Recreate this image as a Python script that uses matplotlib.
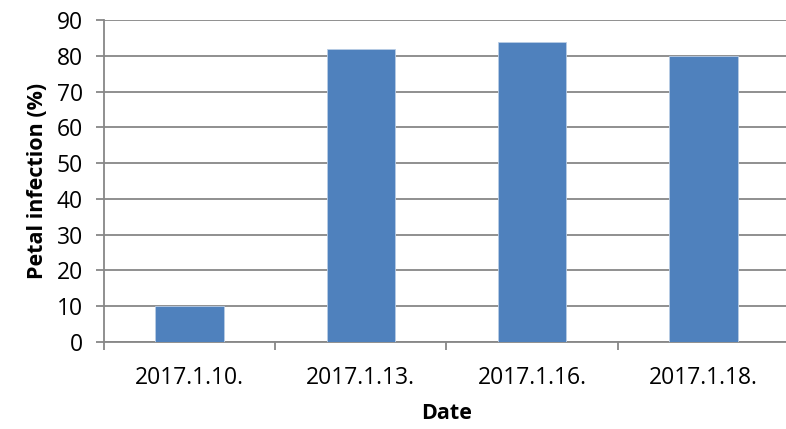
import matplotlib.pyplot as plt
import numpy as np

# data
dates = ['2017.1.10.', '2017.1.13.', '2017.1.16.', '2017.1.18.']
infection = [10, 82, 84, 80]

plt.rcParams['font.family'] = ['Open Sans', 'DejaVu Sans']

fig = plt.figure(figsize=(7.86, 4.29), dpi=100)
ax = fig.add_axes([0.132, 0.203, 0.872, 0.750])

x = np.arange(len(dates))
ax.bar(x, infection, width=0.4, color='#4F81BD', edgecolor='#B9CDE5', linewidth=0.6, zorder=3)

ax.set_xlim(-0.5, len(dates) - 0.5)
ax.set_ylim(0, 90)
ax.set_yticks(range(0, 91, 10))
ax.yaxis.grid(True, color='#878787', linewidth=1.3, zorder=0)

# category labels centred, tick marks between categories (Excel style)
ax.set_xticks(x)
ax.set_xticklabels(dates)
ax.set_xticks(np.arange(-0.5, len(dates), 1.0), minor=True)
ax.tick_params(axis='x', which='major', length=0, pad=17, labelsize=16.5)
ax.tick_params(axis='x', which='minor', length=6, width=1.3, color='#878787')
ax.tick_params(axis='y', length=6, width=1.3, color='#878787', labelsize=16.5, pad=9)

for s in ['top', 'right']:
    ax.spines[s].set_visible(False)
for s in ['left', 'bottom']:
    ax.spines[s].set_color('#878787')
    ax.spines[s].set_linewidth(1.3)

ax.set_xlabel('Date', fontsize=15.5, fontweight='bold', labelpad=10)
ax.set_ylabel('Petal infection (%)', fontsize=15.5, fontweight='bold', labelpad=6)

fig.savefig('out.png', dpi=100)
